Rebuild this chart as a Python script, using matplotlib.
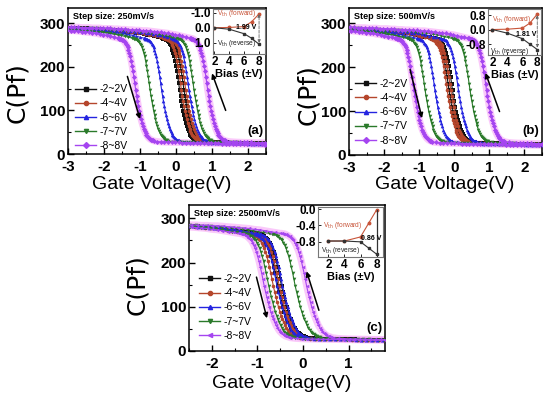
import matplotlib
matplotlib.use("Agg")
import matplotlib.pyplot as plt
import numpy as np

W, H = 550, 398

# ---- data -----------------------------------------------------------------
sweep_labels = ["-2~2V", "-4~4V", "-6~6V", "-7~7V", "-8~8V"]
sweep_colors = ["#111111", "#b5462c", "#2424e0", "#2a7a2a", "#a545f0"]
markers_ab = ["s", "o", "^", "v", "D"]
markers_c = ["s", "o", "^", "v", "<"]

# gate voltage where each branch crosses ~150 pF (reverse / forward sweep)
rev_a = [0.10, 0.15, -0.40, -0.72, -1.12]
fwd_a = [0.22, 0.27, 0.36, 0.50, 0.88]
rev_b = [-0.15, -0.20, -0.55, -0.83, -1.15]
fwd_b = [-0.05, -0.10, 0.12, 0.45, 0.92]
rev_c = [-0.55, -0.65, -0.57, -0.75, -0.85]
fwd_c = [-0.47, -0.52, -0.45, -0.17, 0.08]
# transition is a bit broader at faster sweep
width_a, width_b, width_c = 1.0, 1.05, 1.15

shape_dv = [
    -4.0, -3.9, -3.8, -3.7, -3.6, -3.5, -3.4, -3.3, -3.2, -3.1, -3.0, -2.9,
    -2.8, -2.7, -2.6, -2.5, -2.4, -2.3, -2.2, -2.1, -2.0, -1.9, -1.8, -1.7,
    -1.6, -1.5, -1.4, -1.3, -1.2, -1.1, -1.0, -0.9, -0.8, -0.7, -0.6,
    -0.5, -0.475, -0.45, -0.425, -0.4, -0.375, -0.35, -0.325, -0.3, -0.275,
    -0.25, -0.225, -0.2, -0.175, -0.15, -0.125, -0.1, -0.075, -0.05, -0.025,
    0.0, 0.025, 0.05, 0.075, 0.1, 0.125, 0.15, 0.175, 0.2, 0.225, 0.25,
    0.275, 0.3, 0.325, 0.35, 0.375, 0.4, 0.425, 0.45, 0.475, 0.5,
    0.6, 0.7, 0.8, 0.9, 1.0, 1.1, 1.2, 1.3, 1.4, 1.5, 1.6, 1.7, 1.8, 1.9,
    2.0, 2.1, 2.2, 2.3, 2.4, 2.5, 2.6, 2.7, 2.8, 2.9, 3.0, 3.1, 3.2, 3.3,
    3.4, 3.5, 3.6, 3.7,
]
shape_c = [
    292, 292, 291, 291, 291, 290, 290, 290, 289, 289, 289, 288,
    288, 288, 287, 287, 286, 286, 285, 285, 284, 284, 283, 283,
    282, 281, 280, 279, 278, 277, 275, 274, 272, 270, 268,
    266, 266, 265, 265, 264, 262, 261, 259, 256, 253,
    250, 245, 239, 232, 224, 214, 203, 190, 177, 162,
    147, 134, 122, 110, 99, 89, 80, 72, 65, 58, 53,
    48, 44, 41, 38, 36, 34, 33, 32, 31, 30,
    28.5, 27.8, 27.3, 27.0, 26.8, 26.6, 26.4, 26.2, 26.0, 25.8, 25.6, 25.4, 25.2, 25.0,
    24.8, 24.6, 24.4, 24.2, 24.0, 23.8, 23.6, 23.4, 23.2, 23.0, 22.8, 22.6, 22.4, 22.2,
    22.0, 21.8, 21.6, 21.4,
]

# inset: threshold shift vs bias
bias = [2, 4, 6, 7, 8]
vth_fwd_a = [0.0, -0.02, -0.08, -0.40, -0.92]
vth_rev_a = [0.0, 0.10, 0.40, 0.70, 1.10]
vth_fwd_b = [0.0, 0.02, 0.08, 0.35, 0.85]
vth_rev_b = [0.0, -0.20, -0.50, -0.80, -1.10]
vth_fwd_c = [-0.78, -0.78, -0.68, -0.35, -0.02]
vth_rev_c = [-0.78, -0.78, -0.80, -0.95, -1.10]

NARROW = ["Liberation Sans Narrow", "Liberation Sans", "DejaVu Sans"]
SANS = ["Liberation Sans", "DejaVu Sans"]


def box(left, top, right, bottom):
    return [left / W, 1 - bottom / H, (right - left) / W, (bottom - top) / H]


def fig_text(x, y, s, **kw):
    fig.text(x / W, 1 - y / H, s, **kw)


def draw_panel(ax, xlim, ylim, xticks, rev, fwd, width, markers):
    dv = np.array(shape_dv)
    cap = np.array(shape_c)
    for i in range(5):
        for mid in (rev[i], fwd[i]):
            v = mid + dv * width
            if i == 4:
                ax.plot(v, cap, color="#f7a6f7", lw=5, alpha=0.6,
                        solid_capstyle="round", zorder=1)
            ax.plot(v, cap, color=sweep_colors[i], lw=0.8, marker=markers[i],
                    ms=2.6, mew=0, zorder=2 + i)
    ax.set_xlim(*xlim)
    ax.set_ylim(*ylim)
    ax.set_xticks(xticks)
    ax.set_xticklabels([f"{t:g}" for t in xticks],
                       fontweight="bold", family=SANS, fontsize=11)
    ax.set_yticks([0, 100, 200, 300])
    ax.set_yticklabels(["0", "100", "200", "300"], fontweight="bold",
                       family=SANS, fontsize=11)
    ax.set_xticks(np.arange(xlim[0], xlim[1] + 0.01, 0.5), minor=True)
    ax.set_yticks([50, 150, 250], minor=True)
    ax.tick_params(direction="in", length=4, width=1, pad=2)
    ax.tick_params(axis="x", pad=4.5)
    ax.tick_params(which="minor", direction="in", length=2, width=0.8)
    for sp in ax.spines.values():
        sp.set_linewidth(1.1)
    handles = [
        plt.Line2D([], [], color=sweep_colors[i], marker=markers[i], ms=3, lw=1)
        for i in range(5)
    ]
    return handles


def draw_inset(ax, xlim, ylim, yticks, ylabels, fwd, rev):
    ax.plot(bias, fwd, color="#c8553a", marker="o", ms=1.8, lw=0.8)
    ax.plot(bias, rev, color="#333333", marker="s", ms=1.8, lw=0.8)
    ax.set_xlim(*xlim)
    ax.set_ylim(*ylim)
    ax.set_xticks([2, 4, 6, 8])
    ax.set_xticklabels(["2", "4", "6", "8"], fontweight="bold",
                       family=SANS, fontsize=8.5)
    ax.set_yticks(yticks)
    ax.set_yticklabels(ylabels, fontweight="bold", family=SANS, fontsize=8.5)
    ax.tick_params(direction="in", length=2, width=0.6, pad=1.5)
    ax.set_xlabel("Bias (\u00b1V)", fontweight="bold", family=SANS,
                  fontsize=8, labelpad=0.5)
    for sp in ax.spines.values():
        sp.set_color("#777777")
        sp.set_linewidth(0.8)


fig = plt.figure(figsize=(W / 100, H / 100), dpi=100)

panels = [
    dict(rect=box(68, 8, 266, 154), xlim=(-3, 2.5), ylim=(0, 335),
         xticks=[-3, -2, -1, 0, 1, 2], rev=rev_a, fwd=fwd_a, width=width_a,
         markers=markers_ab, step="Step size: 250mV/s", tag="(a)",
         arrows=[((-1.0, 80), (-1.35, 178)), ((1.0, 185), (1.38, 100))],
         legend=(0.005, 0.52)),
    dict(rect=box(349, 8, 542, 155), xlim=(-3, 2.5), ylim=(0, 335),
         xticks=[-3, -2, -1, 0, 1, 2], rev=rev_b, fwd=fwd_b, width=width_b,
         markers=markers_ab, step="Step size: 500mV/s", tag="(b)",
         arrows=[((-0.92, 84), (-1.26, 195)), ((0.89, 187), (1.29, 99))],
         legend=(0.0, 0.56)),
    dict(rect=box(189, 205, 385, 351), xlim=(-2.5, 1.8), ylim=(0, 330),
         xticks=[-2, -1, 0, 1], rev=rev_c, fwd=fwd_c, width=width_c,
         markers=markers_c, step="Step size: 2500mV/s", tag="(c)",
         arrows=[((-0.79, 74), (-1.02, 167)), ((0.08, 180), (0.35, 92))],
         legend=(0.02, 0.57)),
]

for p in panels:
    ax = fig.add_axes(p["rect"])
    handles = draw_panel(ax, p["xlim"], p["ylim"], p["xticks"], p["rev"],
                         p["fwd"], p["width"], p["markers"])
    for head, tail in p["arrows"]:
        ax.annotate("", xy=head, xytext=tail, zorder=20,
                    arrowprops=dict(arrowstyle="-|>", color="black", lw=1.1,
                                    mutation_scale=7, shrinkA=0, shrinkB=0))
    ax.text(0.025, 0.975, p["step"], transform=ax.transAxes, ha="left",
            va="top", fontsize=6.5, fontweight="bold", family=NARROW, zorder=20)
    ax.text(0.985, 0.16, p["tag"], transform=ax.transAxes, ha="right",
            va="center", fontsize=9.5, fontweight="bold", family=SANS, zorder=20)
    ax.legend(handles, sweep_labels, loc="upper left",
              bbox_to_anchor=p["legend"], frameon=False,
              prop=dict(family=NARROW, size=7.5), handlelength=2.0,
              handletextpad=0.3, labelspacing=0.4, borderaxespad=0.2)

# axis titles
for (xl, yl), (yx, yy) in [((162, 185), (17, 93)), ((445, 185), (308, 95)),
                           ((282, 384), (137, 285))]:
    fig_text(xl, yl, "Gate Voltage(V)", ha="center", va="center",
             fontsize=14, family=NARROW)
    fig_text(yx, yy, "C(Pf)", ha="center", va="center", rotation=90,
             fontsize=18, family=["DejaVu Sans"])

# insets
ia = fig.add_axes(box(213, 9, 265, 54))
draw_inset(ia, (1.8, 8.8), (1.75, -1.25), [-1, 0, 1], ["-1.0", "0.0", "1.0"],
           vth_fwd_a, vth_rev_a)
ia.annotate("", xy=(8, -1.1), xytext=(8, 1.2),
            arrowprops=dict(arrowstyle="<|-|>", color="#666666", lw=0.6,
                            ls="--", mutation_scale=4))
ia.text(2.3, -0.95, "V$_{\\rm th}$ (forward)", color="#c8553a", fontsize=4.8,
        va="center", family=SANS)
ia.text(4.9, 0.0, "1.99 V", fontsize=5, fontweight="bold", va="center",
        family=SANS)
ia.text(2.3, 1.05, "V$_{\\rm th}$ (reverse)", color="#222222", fontsize=4.8,
        va="center", family=SANS)

ib = fig.add_axes(box(488, 9, 541, 55))
draw_inset(ib, (1.4, 8.5), (-1.4, 1.13), [0.8, 0, -0.8], ["0.8", "0.0", "-0.8"],
           vth_fwd_b, vth_rev_b)
ib.annotate("", xy=(8, 0.95), xytext=(8, -1.15),
            arrowprops=dict(arrowstyle="<|-|>", color="#666666", lw=0.6,
                            ls="--", mutation_scale=4))
ib.text(2.0, 0.55, "V$_{\\rm th}$ (forward)", color="#c8553a", fontsize=4.8,
        va="center", family=SANS)
ib.text(5.2, -0.25, "1.81 V", fontsize=5, fontweight="bold", va="center",
        family=SANS)
ib.text(1.7, -1.2, "V$_{\\rm th}$ (reverse)", color="#222222", fontsize=4.8,
        va="center", family=SANS)

ic = fig.add_axes(box(318, 207, 383, 257))
draw_inset(ic, (0.7, 8.8), (-1.17, 0.05), [0.0, -0.4, -0.8],
           ["0.0", "-0.4", "-0.8"], vth_fwd_c, vth_rev_c)
ic.plot([8, 8], [-0.02, -1.1], color="#333333", lw=0.9)
ic.text(1.3, -0.4, "V$_{\\rm th}$ (forward)", color="#c8553a", fontsize=4.8,
        va="center", family=SANS)
ic.text(6.1, -0.72, "0.86 V", fontsize=5, fontweight="bold", va="center",
        family=SANS)
ic.text(1.1, -1.02, "V$_{\\rm th}$ (reverse)", color="#222222", fontsize=4.8,
        va="center", family=SANS)

fig.savefig("out.png", dpi=100)
